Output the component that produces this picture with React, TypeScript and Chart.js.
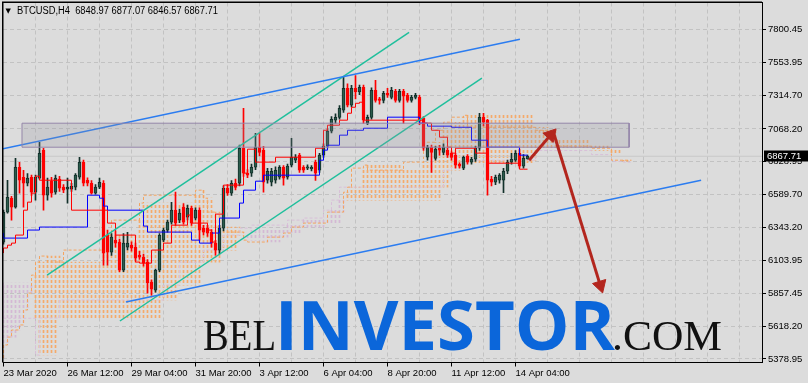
import { useEffect, useRef } from 'react';
import { Chart, registerables } from 'chart.js';

Chart.register(...registerables);

// ---------- DATA ----------
const symbol = 'BTCUSD';
const timeframe = 'H4';

// H4 candles, bar index 0 = 23 Mar 2020 20:00
const opens = [
  6237, 6457, 6560, 6494, 6787, 6714, 6670, 6714, 6604, 6707,
  6912, 6582, 6685, 6604, 6700, 6641, 6626, 6626, 6641, 6714,
  6824, 6692, 6670, 6597, 6641, 6670, 6288, 6163, 6252, 6237,
  6032, 6200, 6215, 6200, 6142, 6127, 6090, 5944, 5885, 6032,
  6252, 6325, 6384, 6472, 6399, 6494, 6420, 6486, 6413, 6472,
  6340, 6340, 6310, 6230, 6178, 6340, 6633, 6597, 6670, 6670,
  6927, 6743, 6743, 6787, 6934, 6912, 6692, 6677, 6692, 6714,
  6787, 6714, 6802, 6839, 6876, 6787, 6780, 6775, 6824, 6765,
  6876, 6942, 7052, 7133, 7154, 7206, 7367, 7243, 7367, 7340,
  7375, 7110, 7154, 7353, 7290, 7279, 7330, 7300, 7345, 7279,
  7345, 7316, 7279, 7300, 7300, 7147, 6861, 6934, 6853, 6927,
  6897, 6912, 6890, 6876, 6810, 6780, 6868, 6824, 6846, 6927,
  7154, 7133, 6700, 6677, 6692, 6692, 6758, 6824, 6839, 6890,
  6795, 6848.97,
];
const highs = [
  6472, 6692, 6574, 6853, 6824, 6765, 6740, 6730, 6730, 6971,
  6927, 6707, 6714, 6730, 6720, 6660, 6707, 6670, 6740, 6860,
  6840, 6710, 6690, 6660, 6707, 6690, 6325, 6300, 6320, 6260,
  6300, 6310, 6240, 6230, 6170, 6150, 6110, 5960, 6040, 6300,
  6340, 6400, 6530, 6604, 6480, 6520, 6510, 6500, 6490, 6490,
  6360, 6360, 6330, 6250, 6360, 6650, 6660, 6690, 6700, 6950,
  7220, 6770, 6810, 7037, 7037, 6940, 6780, 6780, 6790, 6800,
  6800, 6810, 7000, 6880, 6890, 6800, 6805, 6800, 6840, 6890,
  6960, 7070, 7160, 7180, 7240, 7448, 7400, 7389, 7460, 7390,
  7390, 7170, 7370, 7426, 7300, 7345, 7367, 7375, 7360, 7360,
  7360, 7330, 7316, 7330, 7316, 7160, 6949, 6950, 6940, 6949,
  6960, 6930, 6900, 6890, 6820, 6870, 6880, 6860, 6940, 7183,
  7183, 7140, 6720, 6730, 6740, 6780, 6840, 6890, 6910, 6920,
  6880, 6877.07,
];
const lows = [
  6222, 6450, 6399, 6486, 6597, 6494, 6650, 6580, 6545, 6700,
  6472, 6545, 6567, 6590, 6610, 6600, 6523, 6610, 6620, 6700,
  6650, 6650, 6590, 6590, 6630, 6068, 6068, 6140, 6200, 6020,
  6020, 6180, 6170, 6100, 6110, 6060, 5863, 5848, 5870, 6020,
  6240, 6310, 6370, 6360, 6380, 6370, 6400, 6360, 6400, 6252,
  6290, 6280, 6200, 6142, 6150, 6320, 6580, 6580, 6620, 6650,
  6720, 6710, 6720, 6770, 6870, 6604, 6670, 6650, 6670, 6700,
  6655, 6700, 6790, 6820, 6750, 6750, 6770, 6760, 6690, 6750,
  6860, 6930, 7040, 7110, 7140, 7190, 7230, 7230, 7290, 7320,
  7110, 7100, 7140, 7265, 7250, 7260, 7300, 7290, 7265, 7265,
  7110, 7265, 7265, 7290, 7100, 6910, 6839, 6750, 6840, 6876,
  6880, 6860, 6840, 6780, 6780, 6770, 6810, 6810, 6830, 6910,
  7090, 6582, 6650, 6660, 6670, 6600, 6740, 6810, 6830, 6780,
  6780, 6846.57,
];
const closes = [
  6457, 6567, 6494, 6787, 6692, 6670, 6707, 6604, 6714, 6890,
  6582, 6641, 6597, 6707, 6633, 6619, 6641, 6648, 6729, 6824,
  6670, 6670, 6597, 6641, 6677, 6157, 6163, 6274, 6230, 6032,
  6230, 6230, 6193, 6120, 6127, 6083, 5937, 5892, 6032, 6288,
  6325, 6384, 6472, 6377, 6450, 6384, 6486, 6377, 6472, 6325,
  6310, 6303, 6230, 6178, 6340, 6633, 6597, 6670, 6640, 6927,
  6743, 6729, 6787, 6934, 6897, 6677, 6758, 6758, 6765, 6787,
  6707, 6795, 6860, 6860, 6765, 6765, 6790, 6787, 6743, 6876,
  6942, 7052, 7140, 7154, 7220, 7367, 7243, 7367, 7340, 7375,
  7133, 7154, 7353, 7279, 7279, 7330, 7316, 7353, 7279, 7345,
  7310, 7279, 7300, 7316, 7125, 6927, 6934, 6897, 6920, 6912,
  6934, 6876, 6860, 6802, 6795, 6860, 6824, 6846, 6927, 7154,
  7118, 6692, 6677, 6714, 6729, 6758, 6824, 6846, 6890, 6795,
  6853, 6867.71,
];

// Ichimoku lines: [bar index, price] at the points where the value changes
const tenkan = [
  [0, 6157], [1, 6194], [2, 6215], [3, 6230], [5, 6289], [6, 6472], [7, 6531], [8, 6597],
  [9, 6722], [17, 6692], [26, 6472], [28, 6377], [33, 6289], [34, 6091], [37, 6083],
  [40, 6179], [42, 6230], [46, 6362], [47, 6436], [51, 6377], [52, 6326], [53, 6238],
  [55, 6443], [60, 6656], [61, 6744], [63, 6920], [68, 6825], [78, 6861], [80, 6927],
  [81, 7059], [84, 7096], [86, 7133], [87, 7184], [88, 7228], [89, 7257], [90, 7265],
  [105, 7133], [107, 7111], [109, 7059], [111, 7008], [112, 6935], [113, 6891],
  [118, 6927], [121, 6891], [129, 6817], [130, 6773], [131, 6773],
];
const kijun = [
  [0, 6304], [6, 6267], [9, 6326], [21, 6348], [24, 6582], [25, 6560], [26, 6502],
  [35, 6472], [36, 6355], [47, 6311], [49, 6252], [52, 6230], [54, 6304], [59, 6414],
  [60, 6524], [63, 6619], [65, 6685], [79, 6729], [80, 6839], [81, 6913], [84, 6949],
  [86, 7023], [90, 7059], [96, 7074], [104, 7155], [106, 7111], [112, 7089], [117, 7081],
  [121, 6986], [129, 6935], [131, 6876],
];
const senkouA = [
  [0, 5386], [1, 5482], [2, 5540], [4, 5592], [5, 5629], [6, 5739], [7, 5863], [8, 5995],
  [9, 6091], [11, 6135], [15, 6091], [25, 6179], [26, 6230], [27, 6289], [34, 6399],
  [35, 6524], [48, 6582], [50, 6619], [51, 6560], [53, 6458], [55, 6348], [60, 6311],
  [61, 6252], [66, 6238], [70, 6274], [72, 6304], [75, 6348], [81, 6377], [85, 6458],
  [86, 6604], [87, 6641], [90, 6781], [91, 6803], [100, 6766], [105, 6825], [108, 6971],
  [110, 7059], [112, 7118], [115, 7155], [116, 7169], [133, 7081], [137, 7059],
  [139, 6986], [147, 6942], [152, 6927], [155, 6839], [157, 6839],
];
const senkouB = [
  [0, 5937], [8, 5678], [9, 5408], [14, 5680], [40, 5812], [44, 5922], [50, 6090],
  [55, 6179], [59, 6289], [62, 6340], [71, 6362], [75, 6399], [80, 6414], [82, 6472],
  [84, 6546], [110, 6641], [112, 6766], [115, 6817], [133, 6839], [134, 6920],
  [147, 6910], [152, 6880], [155, 6830], [157, 6825],
];

// drawn objects: [bar index, price]
const blueUpper = [[-0.125, 6923], [129.1, 7727]];
const blueLower = [[30.6, 5797], [174.4, 6692]];
const tealUpper = [[10.9, 5995], [101.4, 7778]];
const tealLower = [[29.1, 5658], [119.6, 7441]];
const zoneBars = [4.625, 156.4];
const zonePrices = [7110.7, 6934.6];
const arrowUp = [[131.4, 6839], [136.8, 7025]];
const arrowDown = [[137.4, 7052], [149.2, 5920]];

// axes
const xLabels = [
  '23 Mar 2020', '26 Mar 12:00', '29 Mar 04:00', '31 Mar 20:00', '3 Apr 12:00',
  '6 Apr 04:00', '8 Apr 20:00', '11 Apr 12:00', '14 Apr 04:00',
];
const xLabelEvery = 16;
const xGridEvery = 8;
const yTickValues = [
  7800.45, 7553.95, 7314.7, 7068.2, 6828.95, 6589.7, 6343.2, 6103.95, 5857.45, 5618.2, 5378.95,
];

// ---------- STYLE ----------
const FONT = "'Liberation Sans', Arial, sans-serif";
const BG = '#dcdcdc';
const GRID = '#c2c2c2';
const BULL_FILL = '#2c5c4c';
const BULL_EDGE = '#12302a';
const BEAR = '#ff0000';
const ARROW = '#b3261e';

const pts = (arr: number[][]) => arr.map(([x, y]) => ({ x, y }));

// value held by a stepped series at bar x
const stepValue = (arr: number[][], x: number) => {
  let v = arr[0][1];
  for (const [bx, by] of arr) {
    if (bx <= x) v = by;
    else break;
  }
  return v;
};

export default function App() {
  const ref = useRef<HTMLCanvasElement | null>(null);

  useEffect(() => {
    const canvas = ref.current;
    if (!canvas) return;
    const ctx = canvas.getContext('2d');
    const mkPat = (color: string) => {
      const c = document.createElement('canvas');
      c.width = 4;
      c.height = 5;
      const g = c.getContext('2d');
      g.fillStyle = color;
      g.fillRect(0, 0, 4, 3);
      return ctx.createPattern(c, 'repeat');
    };
    const orangePat = mkPat('#f5aa6a');
    const pinkPat = mkPat('#d4b8d4');

    const n = closes.length;
    const last = n - 1;
    const bull = closes.map((c, i) => c >= opens[i]);
    const bodies = opens.map((o, i) => ({ x: i, y: [o, closes[i]] }));
    const wicks = lows.map((l, i) => ({ x: i, y: [l, highs[i]] }));

    // cloud hatch: one thin bar per bar index between the two spans
    const cloudEnd = senkouA[senkouA.length - 1][0];
    const cloud: any[] = [];
    const cloudColors: any[] = [];
    for (let i = 0; i < cloudEnd; i++) {
      const a = stepValue(senkouA, i);
      const b = stepValue(senkouB, i);
      cloud.push({ x: i, y: [a, b] });
      cloudColors.push(a >= b ? orangePat : pinkPat);
    }

    const xGrid: number[] = [];
    for (let v = 0; v <= 189; v += xGridEvery) xGrid.push(v);

    const lineBase = { type: 'line', pointRadius: 0, borderWidth: 1, fill: false, tension: 0 };

    const datasets: any[] = [
      { ...lineBase, data: pts(arrowUp), borderColor: ARROW, borderWidth: 3, order: 1 },
      { ...lineBase, data: pts(arrowDown), borderColor: ARROW, borderWidth: 3, order: 1 },
      {
        type: 'line', showLine: false, data: [pts(arrowUp)[1], pts(arrowDown)[1]],
        pointStyle: 'triangle', pointRadius: 8, pointRotation: [41.8, 163],
        pointBackgroundColor: ARROW, pointBorderColor: ARROW, pointBorderWidth: 1, order: 0,
      },
      {
        ...lineBase, data: [{ x: zoneBars[0], y: zonePrices[0] }, { x: zoneBars[1], y: zonePrices[0] }],
        borderWidth: 0, fill: '+1', backgroundColor: 'rgba(145,145,160,0.24)', order: 2,
      },
      {
        ...lineBase, data: [{ x: zoneBars[0], y: zonePrices[1] }, { x: zoneBars[1], y: zonePrices[1] }],
        borderWidth: 0, order: 2,
      },
      {
        ...lineBase,
        data: [
          { x: zoneBars[0], y: zonePrices[0] }, { x: zoneBars[1], y: zonePrices[0] },
          { x: zoneBars[1], y: zonePrices[1] }, { x: zoneBars[0], y: zonePrices[1] },
          { x: zoneBars[0], y: zonePrices[0] },
        ],
        borderColor: '#9484aa', order: 2,
      },
      { ...lineBase, data: pts(blueUpper), borderColor: '#2b7cf0', borderWidth: 1.5, order: 3 },
      { ...lineBase, data: pts(blueLower), borderColor: '#2b7cf0', borderWidth: 1.5, order: 3 },
      { ...lineBase, data: pts(tealUpper), borderColor: '#1fbf9c', borderWidth: 1.5, order: 3 },
      { ...lineBase, data: pts(tealLower), borderColor: '#1fbf9c', borderWidth: 1.5, order: 3 },
      { ...lineBase, data: pts(tenkan), borderColor: '#ff0000', stepped: 'after', order: 4 },
      { ...lineBase, data: pts(kijun), borderColor: '#0000ff', stepped: 'after', order: 4 },
      {
        type: 'bar', data: bodies, grouped: false, barThickness: 3, minBarLength: 1,
        backgroundColor: bull.map((b) => (b ? BULL_FILL : BEAR)),
        borderColor: bull.map((b) => (b ? BULL_EDGE : BEAR)),
        borderWidth: 1, borderSkipped: false, order: 5,
      },
      {
        type: 'bar', data: wicks, grouped: false, barThickness: 1, minBarLength: 1,
        backgroundColor: bull.map((b) => (b ? BULL_EDGE : BEAR)),
        borderWidth: 0, order: 6,
      },
      {
        ...lineBase, data: [{ x: -0.125, y: closes[last] }, { x: 189.625, y: closes[last] }],
        borderColor: '#c8c8c8', order: 7,
      },
      {
        ...lineBase, data: pts(senkouA), stepped: 'after', borderColor: '#f4a460',
        borderDash: [3, 2], order: 8,
      },
      {
        ...lineBase, data: pts(senkouB), stepped: 'after', borderColor: '#d8bfd8',
        borderDash: [3, 2], order: 9,
      },
      {
        type: 'bar', data: cloud, grouped: false, barThickness: 1,
        backgroundColor: cloudColors, borderWidth: 0, order: 10,
      },
    ];

    const framePlugin = {
      id: 'frame',
      afterDatasetsDraw(chart: any) {
        const { ctx: c, chartArea: a } = chart;
        c.save();
        c.strokeStyle = '#000';
        c.lineWidth = 1.5;
        c.beginPath();
        c.moveTo(a.left - 0.25, a.bottom);
        c.lineTo(a.left - 0.25, a.top - 0.25);
        c.lineTo(a.right, a.top - 0.25);
        c.stroke();
        c.restore();
      },
    };
    const pricePlugin = {
      id: 'lastPrice',
      afterDraw(chart: any) {
        const { ctx: c, chartArea: a, scales } = chart;
        const y = scales.y.getPixelForValue(closes[last]);
        c.save();
        c.fillStyle = '#000';
        c.fillRect(a.right + 2, Math.round(y) - 5.5, 44, 11);
        c.fillStyle = '#fff';
        c.font = `9.5px ${FONT}`;
        c.textBaseline = 'middle';
        c.textAlign = 'left';
        c.fillText(closes[last].toFixed(2), a.right + 5, Math.round(y) + 0.5);
        c.restore();
      },
    };

    const chart = new Chart(canvas, {
      type: 'bar',
      data: { datasets },
      plugins: [framePlugin, pricePlugin],
      options: {
        responsive: false,
        animation: false,
        events: [],
        layout: { autoPadding: false, padding: { left: 3, top: 2.5, right: 0, bottom: 0 } },
        plugins: { legend: { display: false }, tooltip: { enabled: false }, title: { display: false } },
        scales: {
          x: {
            type: 'linear',
            min: -0.125,
            max: 189.625,
            offset: false,
            bounds: 'data',
            afterBuildTicks: (s: any) => {
              s.ticks = xGrid.map((v) => ({ value: v }));
            },
            afterFit: (s: any) => {
              s.height = 20.5;
              s.paddingLeft = 0;
              s.paddingRight = 0;
              s.paddingTop = 0;
              s.paddingBottom = 0;
            },
            grid: {
              offset: false,
              color: (c: any) => (c.tick && c.tick.value === 0 ? 'rgba(0,0,0,0)' : GRID),
              tickColor: (c: any) =>
                c.tick && c.tick.value % xLabelEvery === 0 && c.tick.value / xLabelEvery < xLabels.length
                  ? '#000'
                  : 'rgba(0,0,0,0)',
              tickLength: 4,
              tickBorderDash: [],
              tickWidth: 1,
              lineWidth: 1,
            },
            border: { display: true, color: '#000', width: 1, dash: [4, 3] },
            ticks: {
              autoSkip: false,
              maxRotation: 0,
              minRotation: 0,
              align: 'start',
              padding: 1,
              color: '#000',
              font: { family: FONT, size: 9.5 },
              callback: (v: any) => {
                const k = Number(v) / xLabelEvery;
                return Number.isInteger(k) && k < xLabels.length ? xLabels[k] : '';
              },
            },
          },
          y: {
            type: 'linear',
            position: 'right',
            min: 5353.2,
            max: 7997.3,
            bounds: 'data',
            afterBuildTicks: (s: any) => {
              s.ticks = yTickValues.slice().reverse().map((v) => ({ value: v }));
            },
            afterFit: (s: any) => {
              s.width = 46;
              s.paddingTop = 0;
              s.paddingBottom = 0;
              s.paddingLeft = 0;
              s.paddingRight = 0;
            },
            grid: {
              color: GRID,
              tickColor: '#000',
              tickLength: 4,
              tickBorderDash: [],
              tickWidth: 1,
              lineWidth: 1,
            },
            border: { display: true, color: '#000', width: 1, dash: [4, 3] },
            ticks: {
              padding: 2,
              color: '#000',
              font: { family: FONT, size: 9.5 },
              callback: (v: any) => Number(v).toFixed(2),
            },
          },
        },
      },
    } as any);
    return () => chart.destroy();
  }, []);

  const last = closes.length - 1;
  const header = `${symbol},${timeframe}  ${opens[last].toFixed(2)} ${highs[last].toFixed(2)} ${lows[last].toFixed(2)} ${closes[last].toFixed(2)}`;

  return (
    <div
      style={{
        position: 'fixed', left: 0, top: 0, width: 808, height: 383,
        background: BG, overflow: 'hidden',
      }}
    >
      <canvas
        ref={ref}
        width={808}
        height={383}
        style={{ position: 'absolute', left: 0, top: 0, width: 808, height: 383 }}
      />
      <svg
        width={808}
        height={383}
        style={{ position: 'absolute', left: 0, top: 0, pointerEvents: 'none' }}
      >
        <text x={5.5} y={13} fontFamily="'DejaVu Sans', sans-serif" fontSize={7} fill="#000">▼</text>
        <text
          x={17} y={14} fontFamily={FONT} fontSize={10} fill="#000"
          textLength={201} lengthAdjust="spacingAndGlyphs" style={{ whiteSpace: 'pre' }}
        >
          {header}
        </text>
        <text
          x={203} y={350} fontFamily="'Liberation Serif', 'Times New Roman', serif" fontSize={44}
          fill="#111" textLength={73} lengthAdjust="spacingAndGlyphs"
        >
          BEL
        </text>
        <text
          x={275} y={350} fontFamily="'Open Sans', 'Liberation Sans', sans-serif" fontWeight={700}
          fontSize={68} fill="#0b66da" textLength={340} lengthAdjust="spacingAndGlyphs"
        >
          INVESTOR
        </text>
        <text
          x={612} y={350} fontFamily="'Liberation Serif', 'Times New Roman', serif" fontSize={42}
          fill="#111" textLength={110} lengthAdjust="spacingAndGlyphs"
        >
          .COM
        </text>
      </svg>
    </div>
  );
}
